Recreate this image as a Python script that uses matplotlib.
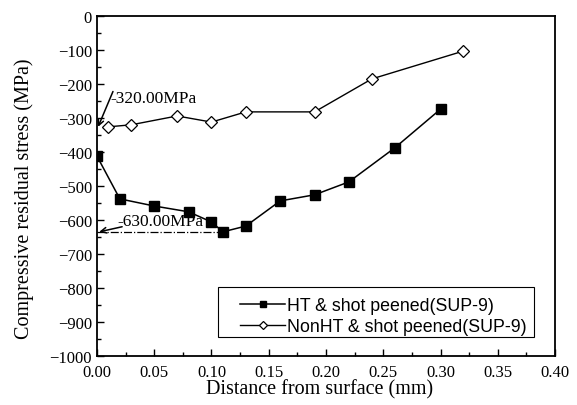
import numpy as np
import matplotlib
matplotlib.use("Agg")
import matplotlib.pyplot as plt
from matplotlib.ticker import MultipleLocator
from matplotlib.patches import Rectangle

# HT & shot peened (SUP-9)
ht_x = [0.00, 0.02, 0.05, 0.08, 0.10, 0.11, 0.13, 0.16, 0.19, 0.22, 0.26, 0.30]
ht_y = [-412, -538, -559, -576, -606, -635, -618, -544, -526, -488, -388, -274]

# NonHT & shot peened (SUP-9)
non_x = [0.01, 0.03, 0.07, 0.10, 0.13, 0.19, 0.24, 0.32]
non_y = [-326, -320, -294, -312, -282, -282, -185, -103]

labels = ["HT & shot peened(SUP-9)", "NonHT & shot peened(SUP-9)"]

serif = "Liberation Serif"
sans = "Liberation Sans"

fig = plt.figure(figsize=(5.77, 4.06), dpi=100)
ax = fig.add_axes([0.168, 0.121, 0.794, 0.837])

ax.plot(ht_x, ht_y, color="black", lw=1.1, marker="s", ms=6.7,
        mfc="black", mec="black", label=labels[0])
ax.plot(non_x, non_y, color="black", lw=1.0, marker="D", ms=6,
        mfc="white", mec="black", mew=0.9, label=labels[1])

# dash-dot line at the minimum of the HT curve
ax.plot([0.0, 0.11], [-635, -635], color="black", lw=0.9, ls="-.")

# annotations
ax.text(0.012, -240, "-320.00MPa", fontsize=12.5, family=serif,
        ha="left", va="center")
ax.annotate("", xy=(0.001, -326), xytext=(0.014, -222),
            arrowprops=dict(arrowstyle="->", color="black", lw=1.1,
                            shrinkA=0, shrinkB=0))
ax.text(0.018, -604, "-630.00MPa", fontsize=12.5, family=serif,
        ha="left", va="center")
ax.annotate("", xy=(0.002, -635), xytext=(0.022, -620),
            arrowprops=dict(arrowstyle="->", color="black", lw=1.1,
                            shrinkA=0, shrinkB=0))

ax.set_xlim(0, 0.40)
ax.set_ylim(-1000, 0)
ax.xaxis.set_major_locator(MultipleLocator(0.05))
ax.xaxis.set_minor_locator(MultipleLocator(0.025))
ax.yaxis.set_major_locator(MultipleLocator(100))
ax.yaxis.set_minor_locator(MultipleLocator(50))
ax.xaxis.set_major_formatter(plt.FuncFormatter(lambda v, p: f"{v:.2f}"))

ax.tick_params(which="both", direction="in", top=False, right=False,
               labelsize=12)
ax.tick_params(which="major", length=5, width=1.0)
ax.tick_params(which="minor", length=3, width=1.0)
ax.tick_params(axis="x", pad=5.5)
ax.tick_params(axis="y", pad=3.5)
for lab in ax.get_xticklabels() + ax.get_yticklabels():
    lab.set_family(serif)
for s in ax.spines.values():
    s.set_linewidth(1.3)

ax.set_xlabel("Distance from surface (mm)", fontsize=14.5, family=serif)
ax.set_ylabel("Compressive residual stress (MPa)", fontsize=14.5,
              family=serif)
ax.xaxis.set_label_coords(0.487, -0.068)
ax.yaxis.set_label_coords(-0.138, 0.465)

# legend with a frame drawn by hand (frame is wider on the left)
ax.add_patch(Rectangle((0.264, 0.056), 0.690, 0.147, transform=ax.transAxes,
                       fill=True, facecolor="white", edgecolor="black",
                       lw=0.8, zorder=4))
leg = ax.legend(loc="lower left", bbox_to_anchor=(0.293, 0.034),
                prop={"family": sans, "size": 12.8}, frameon=False,
                handlelength=2.55, handletextpad=0.1, borderpad=0,
                labelspacing=0.25, markerscale=0.75)
leg.set_zorder(5)

fig.savefig("out.png", dpi=100)
